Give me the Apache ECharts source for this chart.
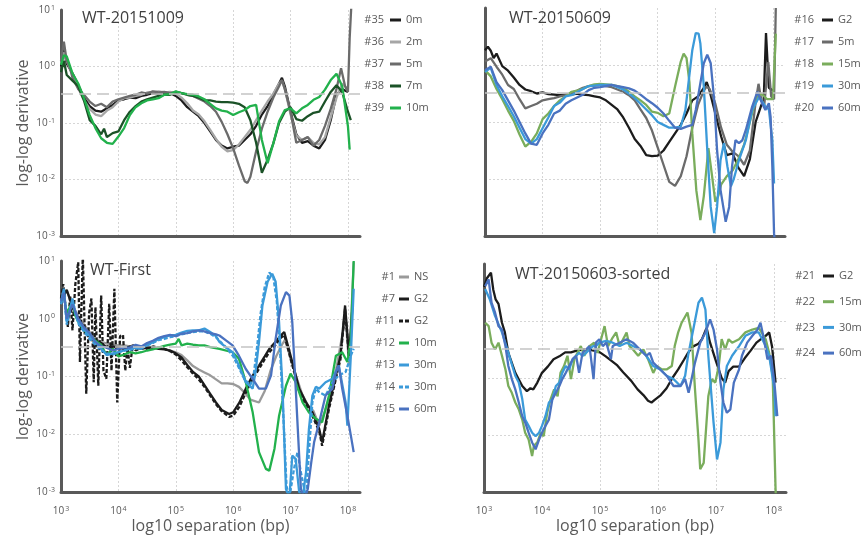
<!DOCTYPE html>
<html><head><meta charset="utf-8">
<script src="https://cdn.jsdelivr.net/npm/echarts@6/dist/echarts.min.js"></script>
<style>html,body{margin:0;padding:0;background:#fff}#c{width:864px;height:539px}</style>
</head><body><div id="c"></div>
<script>
// ---- axis settings (x = log10 separation, y = log10 of log-log derivative) ----
const xRange = [3, 8.21];
const yRange = [-3, 1];
const refLevel = -0.48;
const panelTitles = ['WT-20151009', 'WT-20150609', 'WT-First', 'WT-20150603-sorted'];
const xAxisTitle = 'log10 separation (bp)';
const yAxisTitle = 'log-log derivative';

// ---- Panel 1: WT-20151009 ----
const s35 = [[3.0,0.0],[3.05,0.3],[3.1,0.05],[3.2,-0.12],[3.3,-0.33],[3.4,-0.55],[3.5,-0.7],[3.6,-0.78],[3.7,-0.8],[3.8,-0.74],[3.9,-0.68],[4.0,-0.6],[4.1,-0.58],[4.2,-0.55],[4.3,-0.56],[4.4,-0.52],[4.5,-0.5],[4.6,-0.47],[4.7,-0.48],[4.8,-0.46],[4.9,-0.47],[5.0,-0.52],[5.1,-0.6],[5.2,-0.72],[5.3,-0.8],[5.4,-0.88],[5.5,-1.0],[5.6,-1.15],[5.7,-1.3],[5.8,-1.4],[5.9,-1.45],[6.0,-1.42],[6.1,-1.4],[6.2,-1.3],[6.3,-1.2],[6.4,-1.05],[6.5,-0.85],[6.6,-0.7],[6.7,-0.5],[6.8,-0.3],[6.85,-0.2],[6.9,-0.35],[7.0,-0.8],[7.1,-1.2],[7.2,-1.35],[7.3,-1.32],[7.4,-1.4],[7.5,-1.45],[7.6,-1.3],[7.7,-0.95],[7.8,-0.5],[7.9,-0.4],[8.0,-0.45]];
const s36 = [[3.0,0.05],[3.05,0.25],[3.1,0.1],[3.2,-0.15],[3.3,-0.38],[3.4,-0.6],[3.5,-0.75],[3.6,-0.85],[3.7,-0.88],[3.8,-0.78],[3.9,-0.72],[4.0,-0.62],[4.1,-0.56],[4.2,-0.55],[4.3,-0.52],[4.4,-0.5],[4.5,-0.46],[4.6,-0.45],[4.7,-0.44],[4.8,-0.46],[4.9,-0.45],[5.0,-0.48],[5.1,-0.55],[5.2,-0.65],[5.3,-0.78],[5.4,-0.85],[5.5,-0.97],[5.6,-1.12],[5.7,-1.28],[5.8,-1.42],[5.9,-1.5],[6.0,-1.48],[6.1,-1.38],[6.2,-1.25],[6.3,-1.12],[6.4,-0.95],[6.5,-0.78],[6.6,-0.62],[6.7,-0.48],[6.8,-0.3],[6.85,-0.25],[6.9,-0.4],[7.0,-0.85],[7.1,-1.22],[7.2,-1.3],[7.3,-1.25],[7.4,-1.35],[7.5,-1.38],[7.6,-1.25],[7.7,-0.9],[7.8,-0.55],[7.9,-0.3],[8.0,-0.4]];
const s37 = [[3.0,0.1],[3.05,0.44],[3.1,0.1],[3.15,0.0],[3.2,-0.2],[3.3,-0.4],[3.4,-0.5],[3.5,-0.62],[3.6,-0.7],[3.7,-0.66],[3.8,-0.72],[3.9,-0.62],[4.0,-0.58],[4.1,-0.55],[4.2,-0.52],[4.3,-0.5],[4.4,-0.46],[4.5,-0.48],[4.6,-0.44],[4.7,-0.46],[4.8,-0.45],[4.9,-0.47],[5.0,-0.45],[5.1,-0.47],[5.2,-0.5],[5.3,-0.52],[5.4,-0.57],[5.5,-0.62],[5.6,-0.7],[5.7,-0.8],[5.8,-0.98],[5.9,-1.2],[6.0,-1.45],[6.1,-1.75],[6.2,-2.03],[6.25,-2.06],[6.3,-1.95],[6.4,-1.5],[6.5,-1.1],[6.6,-0.8],[6.7,-0.55],[6.8,-0.35],[6.85,-0.24],[6.9,-0.4],[7.0,-0.8],[7.1,-1.35],[7.2,-1.3],[7.3,-1.25],[7.4,-1.4],[7.5,-1.3],[7.6,-1.05],[7.7,-0.75],[7.8,-0.4],[7.88,-0.03],[7.95,-0.35],[8.0,-0.45],[8.03,0.5],[8.06,1.1]];
const s38 = [[3.0,-0.1],[3.05,0.1],[3.1,-0.15],[3.2,-0.25],[3.3,-0.35],[3.4,-0.6],[3.5,-0.95],[3.6,-1.05],[3.7,-1.2],[3.75,-1.1],[3.8,-1.25],[3.9,-1.18],[4.0,-1.15],[4.1,-0.95],[4.2,-0.8],[4.3,-0.7],[4.4,-0.62],[4.5,-0.58],[4.6,-0.55],[4.7,-0.52],[4.8,-0.5],[4.9,-0.5],[5.0,-0.46],[5.1,-0.47],[5.2,-0.5],[5.3,-0.52],[5.4,-0.55],[5.5,-0.6],[5.6,-0.6],[5.7,-0.62],[5.8,-0.63],[5.9,-0.63],[6.0,-0.64],[6.1,-0.66],[6.2,-0.72],[6.3,-0.95],[6.4,-1.35],[6.5,-1.88],[6.6,-1.65],[6.7,-1.36],[6.8,-1.0],[6.9,-0.8],[7.0,-0.72],[7.1,-0.93],[7.2,-0.96],[7.3,-0.88],[7.4,-0.82],[7.5,-0.8],[7.6,-0.62],[7.7,-0.45],[7.8,-0.33],[7.9,-0.45],[8.0,-0.8],[8.05,-0.95]];
const s39 = [[3.0,0.03],[3.05,0.2],[3.1,0.18],[3.2,-0.12],[3.3,-0.3],[3.4,-0.56],[3.5,-0.86],[3.6,-1.09],[3.7,-1.27],[3.8,-1.35],[3.9,-1.37],[4.0,-1.24],[4.1,-1.09],[4.2,-0.86],[4.3,-0.72],[4.4,-0.65],[4.5,-0.6],[4.6,-0.58],[4.7,-0.56],[4.8,-0.5],[4.9,-0.49],[5.0,-0.44],[5.1,-0.47],[5.2,-0.49],[5.3,-0.5],[5.4,-0.53],[5.5,-0.58],[5.6,-0.66],[5.7,-0.74],[5.8,-0.78],[5.9,-0.8],[6.0,-0.86],[6.1,-0.81],[6.2,-0.77],[6.3,-0.7],[6.4,-0.68],[6.5,-1.3],[6.6,-1.71],[6.7,-1.36],[6.8,-0.97],[6.9,-0.77],[7.0,-0.74],[7.1,-0.83],[7.2,-0.74],[7.3,-0.68],[7.4,-0.59],[7.5,-0.54],[7.6,-0.41],[7.7,-0.24],[7.8,-0.13],[7.9,-0.35],[8.0,-1.06],[8.03,-1.47]];

// ---- Panel 2: WT-20150609 ----
const s16 = [[3.0,0.26],[3.05,0.32],[3.1,0.25],[3.15,0.12],[3.2,0.2],[3.3,-0.02],[3.4,-0.1],[3.5,-0.22],[3.6,-0.35],[3.7,-0.43],[3.8,-0.46],[3.9,-0.5],[4.0,-0.48],[4.1,-0.51],[4.2,-0.52],[4.3,-0.53],[4.4,-0.52],[4.5,-0.52],[4.6,-0.5],[4.7,-0.52],[4.8,-0.53],[4.9,-0.55],[5.0,-0.57],[5.1,-0.62],[5.2,-0.7],[5.3,-0.78],[5.4,-0.92],[5.5,-1.1],[5.6,-1.3],[5.7,-1.42],[5.8,-1.58],[5.9,-1.6],[6.0,-1.59],[6.1,-1.5],[6.2,-1.35],[6.3,-1.2],[6.4,-1.05],[6.5,-0.85],[6.6,-0.62],[6.7,-0.55],[6.8,-0.4],[6.85,-0.3],[6.9,-0.45],[7.0,-0.85],[7.1,-1.25],[7.2,-1.58],[7.3,-1.55],[7.4,-1.8],[7.5,-1.95],[7.6,-1.65],[7.7,-1.0],[7.8,-0.7],[7.84,-0.62],[7.88,0.56],[7.93,-0.4],[8.0,-0.45]];
const s17 = [[3.0,0.06],[3.1,0.12],[3.2,-0.03],[3.3,-0.17],[3.4,-0.35],[3.5,-0.42],[3.6,-0.6],[3.7,-0.76],[3.8,-0.72],[3.9,-0.68],[4.0,-0.62],[4.1,-0.6],[4.2,-0.58],[4.3,-0.55],[4.4,-0.53],[4.5,-0.49],[4.6,-0.45],[4.7,-0.4],[4.8,-0.37],[4.9,-0.36],[5.0,-0.35],[5.1,-0.37],[5.2,-0.39],[5.3,-0.43],[5.4,-0.47],[5.5,-0.53],[5.6,-0.62],[5.7,-0.78],[5.8,-0.93],[5.9,-1.15],[6.0,-1.45],[6.1,-1.75],[6.2,-2.05],[6.3,-2.12],[6.4,-1.95],[6.5,-1.6],[6.6,-1.1],[6.7,-0.7],[6.8,-0.45],[6.85,-0.38],[6.9,-0.42],[7.0,-0.68],[7.1,-1.1],[7.2,-1.4],[7.3,-1.52],[7.4,-1.6],[7.5,-1.75],[7.6,-1.5],[7.7,-0.65],[7.75,-0.33],[7.8,-0.62],[7.85,-0.7],[7.92,0.05],[7.97,-0.55],[8.02,-0.6],[8.05,1.0]];
const s18 = [[3.0,-0.09],[3.1,-0.2],[3.2,-0.42],[3.3,-0.6],[3.4,-0.8],[3.5,-0.98],[3.6,-1.22],[3.7,-1.43],[3.8,-1.35],[3.9,-1.2],[4.0,-0.95],[4.1,-0.85],[4.2,-0.72],[4.3,-0.62],[4.4,-0.55],[4.5,-0.47],[4.6,-0.45],[4.7,-0.42],[4.8,-0.37],[4.9,-0.34],[5.0,-0.33],[5.1,-0.34],[5.2,-0.35],[5.3,-0.37],[5.4,-0.4],[5.5,-0.47],[5.6,-0.55],[5.7,-0.62],[5.8,-0.7],[5.9,-0.82],[6.0,-0.84],[6.1,-0.9],[6.2,-0.85],[6.3,-0.38],[6.4,0.06],[6.45,0.2],[6.5,0.12],[6.55,-0.3],[6.6,-1.2],[6.67,-2.2],[6.74,-2.72],[6.8,-2.3],[6.88,-1.46],[6.95,-2.0],[7.0,-2.4],[7.05,-2.3],[7.1,-2.1],[7.2,-1.95],[7.3,-1.85],[7.4,-1.65],[7.5,-1.4],[7.6,-1.0],[7.7,-0.6],[7.8,-0.5],[7.9,-0.6],[8.0,-0.6],[8.05,0.55]];
const s19 = [[3.0,-0.12],[3.1,-0.05],[3.2,-0.35],[3.3,-0.55],[3.4,-0.72],[3.5,-0.9],[3.6,-1.1],[3.7,-1.3],[3.8,-1.38],[3.9,-1.3],[4.0,-1.11],[4.1,-0.92],[4.2,-0.72],[4.3,-0.66],[4.4,-0.55],[4.5,-0.53],[4.6,-0.48],[4.7,-0.42],[4.8,-0.37],[4.9,-0.36],[5.0,-0.35],[5.1,-0.35],[5.2,-0.35],[5.3,-0.39],[5.4,-0.43],[5.5,-0.5],[5.6,-0.58],[5.7,-0.68],[5.8,-0.78],[5.9,-0.88],[6.0,-1.0],[6.1,-1.05],[6.2,-1.1],[6.3,-1.1],[6.4,-1.08],[6.48,-0.79],[6.54,-0.26],[6.6,0.26],[6.66,0.56],[6.71,0.55],[6.74,0.38],[6.8,-0.38],[6.86,-1.49],[6.92,-2.49],[6.98,-2.95],[7.03,-2.49],[7.09,-1.67],[7.15,-1.37],[7.21,-1.78],[7.27,-2.13],[7.32,-2.0],[7.41,-1.67],[7.53,-1.32],[7.64,-0.79],[7.76,-0.56],[7.87,-0.73],[7.93,-0.78],[7.99,-1.32],[8.02,-2.08]];
const s20 = [[3.0,-0.09],[3.1,-0.03],[3.2,-0.3],[3.3,-0.44],[3.4,-0.62],[3.5,-0.8],[3.6,-1.0],[3.7,-1.2],[3.8,-1.38],[3.9,-1.4],[4.0,-1.2],[4.1,-1.05],[4.2,-0.85],[4.3,-0.8],[4.4,-0.68],[4.5,-0.62],[4.6,-0.57],[4.7,-0.52],[4.8,-0.44],[4.9,-0.4],[5.0,-0.39],[5.1,-0.37],[5.2,-0.35],[5.3,-0.37],[5.4,-0.39],[5.5,-0.41],[5.6,-0.45],[5.7,-0.52],[5.8,-0.6],[5.9,-0.67],[6.0,-0.75],[6.1,-0.85],[6.2,-0.98],[6.3,-1.1],[6.4,-1.12],[6.5,-1.08],[6.6,-1.05],[6.66,-0.79],[6.74,-0.32],[6.8,0.03],[6.86,0.18],[6.92,0.03],[6.98,-0.61],[7.03,-1.49],[7.09,-2.19],[7.18,-2.75],[7.24,-2.49],[7.29,-1.78],[7.35,-1.32],[7.41,-1.37],[7.47,-1.32],[7.53,-1.14],[7.64,-0.73],[7.73,-0.47],[7.81,-0.67],[7.87,-0.79],[7.93,-0.67],[7.96,-0.91],[7.99,-1.78],[8.02,-2.95],[8.04,-3.2]];

// ---- Panel 3: WT-First ----
const s1 = [[3.0,0.35],[3.1,0.49],[3.2,0.23],[3.3,0.05],[3.4,-0.1],[3.5,-0.23],[3.6,-0.35],[3.7,-0.4],[3.8,-0.43],[3.9,-0.45],[4.0,-0.46],[4.1,-0.46],[4.2,-0.48],[4.3,-0.49],[4.4,-0.5],[4.5,-0.5],[4.6,-0.49],[4.7,-0.5],[4.8,-0.52],[4.9,-0.55],[5.0,-0.58],[5.1,-0.63],[5.2,-0.72],[5.3,-0.82],[5.4,-0.88],[5.5,-0.93],[5.6,-0.98],[5.7,-1.05],[5.8,-1.12],[5.9,-1.12],[6.0,-1.13],[6.1,-1.18],[6.2,-1.28],[6.3,-1.4],[6.45,-1.45],[6.55,-1.25],[6.65,-0.9],[6.75,-0.65],[6.85,-0.45],[6.9,-0.37],[6.95,-0.5],[7.0,-0.7],[7.1,-1.0],[7.2,-1.3],[7.3,-1.5],[7.4,-1.6],[7.5,-1.85],[7.6,-1.6],[7.7,-1.3],[7.8,-0.85],[7.9,-0.29],[7.96,0.0],[8.02,-0.81],[8.1,0.98]];
const s7 = [[3.0,0.3],[3.1,0.5],[3.2,0.2],[3.3,0.0],[3.4,-0.15],[3.5,-0.3],[3.6,-0.38],[3.7,-0.42],[3.8,-0.5],[3.9,-0.48],[4.0,-0.5],[4.1,-0.52],[4.2,-0.48],[4.3,-0.5],[4.4,-0.52],[4.5,-0.5],[4.6,-0.5],[4.7,-0.52],[4.8,-0.53],[4.9,-0.55],[5.0,-0.6],[5.1,-0.67],[5.2,-0.8],[5.3,-0.92],[5.4,-1.0],[5.5,-1.15],[5.6,-1.3],[5.7,-1.45],[5.8,-1.58],[5.93,-1.65],[6.0,-1.62],[6.11,-1.45],[6.22,-1.21],[6.33,-1.0],[6.45,-0.81],[6.55,-0.65],[6.63,-0.52],[6.74,-0.4],[6.82,-0.3],[6.89,-0.23],[6.95,-0.45],[7.03,-0.75],[7.15,-1.21],[7.27,-1.45],[7.38,-1.62],[7.5,-1.91],[7.55,-2.14],[7.67,-1.5],[7.79,-0.98],[7.87,-0.64],[7.95,0.23],[8.02,-0.64],[8.08,0.23]];
const s11 = [[3.0,0.35],[3.04,0.6],[3.08,0.2],[3.12,-0.14],[3.16,0.4],[3.2,-0.2],[3.25,0.6],[3.3,0.98],[3.33,-0.75],[3.38,1.1],[3.44,-1.3],[3.49,0.1],[3.53,0.35],[3.57,-1.1],[3.6,0.2],[3.65,-1.16],[3.7,0.4],[3.74,-0.9],[3.79,-1.04],[3.84,0.26],[3.88,-0.9],[3.93,0.52],[3.98,-1.45],[4.03,-0.3],[4.08,-0.28],[4.12,-0.9],[4.16,-0.5],[4.2,-0.85],[4.25,-0.45],[4.3,-0.55],[4.4,-0.5],[4.5,-0.52],[4.6,-0.48],[4.7,-0.5],[4.8,-0.52],[4.9,-0.56],[5.0,-0.62],[5.1,-0.72],[5.2,-0.84],[5.3,-0.95],[5.4,-1.05],[5.5,-1.18],[5.6,-1.33],[5.7,-1.48],[5.8,-1.6],[5.93,-1.7],[6.0,-1.68],[6.11,-1.52],[6.22,-1.28],[6.33,-1.06],[6.45,-0.87],[6.55,-0.7],[6.63,-0.58],[6.74,-0.45],[6.82,-0.34],[6.89,-0.28],[6.95,-0.5],[7.03,-0.8],[7.15,-1.25],[7.27,-1.5],[7.38,-1.68],[7.5,-1.95],[7.55,-2.2],[7.67,-1.56],[7.79,-1.04],[7.87,-0.7],[7.95,0.18],[8.02,-0.7]];
const s12 = [[3.0,0.29],[3.05,0.4],[3.1,0.1],[3.2,0.29],[3.25,0.05],[3.3,-0.05],[3.4,-0.2],[3.5,-0.28],[3.6,-0.38],[3.7,-0.45],[3.75,-0.55],[3.8,-0.63],[3.9,-0.52],[4.0,-0.65],[4.1,-0.62],[4.2,-0.58],[4.3,-0.6],[4.4,-0.58],[4.5,-0.55],[4.6,-0.53],[4.7,-0.5],[4.8,-0.47],[4.9,-0.45],[5.0,-0.43],[5.05,-0.35],[5.1,-0.46],[5.2,-0.43],[5.3,-0.45],[5.4,-0.46],[5.5,-0.46],[5.6,-0.49],[5.76,-0.52],[5.99,-0.58],[6.1,-0.69],[6.22,-1.1],[6.34,-1.62],[6.45,-2.31],[6.57,-2.6],[6.63,-2.63],[6.72,-2.25],[6.8,-1.68],[6.92,-1.16],[7.0,-0.95],[7.09,-1.1],[7.21,-1.45],[7.32,-1.62],[7.44,-1.73],[7.55,-1.79],[7.67,-1.33],[7.79,-0.64],[7.9,-0.58],[7.99,-0.75],[8.05,-0.35],[8.1,1.0]];
const s13 = [[3.0,0.29],[3.05,0.52],[3.1,-0.06],[3.2,0.35],[3.25,0.1],[3.3,-0.05],[3.4,-0.18],[3.5,-0.3],[3.6,-0.4],[3.7,-0.52],[3.8,-0.63],[3.9,-0.6],[4.0,-0.58],[4.1,-0.55],[4.2,-0.52],[4.3,-0.5],[4.4,-0.52],[4.5,-0.45],[4.6,-0.41],[4.7,-0.35],[4.8,-0.32],[4.9,-0.29],[5.0,-0.28],[5.1,-0.24],[5.2,-0.21],[5.3,-0.2],[5.4,-0.2],[5.5,-0.17],[5.6,-0.23],[5.7,-0.3],[5.76,-0.4],[5.88,-0.5],[5.99,-0.58],[6.1,-0.81],[6.22,-1.1],[6.34,-1.21],[6.39,-0.92],[6.45,-0.4],[6.51,0.23],[6.6,0.64],[6.68,0.78],[6.74,0.64],[6.8,-0.06],[6.86,-1.21],[6.92,-2.95],[6.98,-3.1],[7.03,-2.37],[7.09,-2.43],[7.15,-3.0],[7.21,-3.1],[7.27,-2.66],[7.32,-1.91],[7.38,-1.33],[7.44,-1.18],[7.5,-1.21],[7.61,-1.1],[7.73,-1.04],[7.84,-0.81],[7.96,-1.45],[7.99,-1.85],[8.05,-0.64],[8.1,0.52]];
const s14 = [[3.0,0.25],[3.05,0.45],[3.1,-0.1],[3.2,0.3],[3.3,-0.08],[3.4,-0.22],[3.5,-0.35],[3.6,-0.45],[3.7,-0.55],[3.8,-0.6],[3.9,-0.62],[4.0,-0.58],[4.1,-0.55],[4.2,-0.54],[4.3,-0.52],[4.4,-0.5],[4.5,-0.46],[4.6,-0.42],[4.7,-0.37],[4.8,-0.35],[4.9,-0.32],[5.0,-0.3],[5.1,-0.27],[5.2,-0.25],[5.3,-0.23],[5.4,-0.22],[5.5,-0.22],[5.6,-0.26],[5.7,-0.32],[5.8,-0.42],[5.9,-0.52],[6.0,-0.65],[6.1,-0.85],[6.2,-1.05],[6.3,-1.15],[6.36,-0.95],[6.42,-0.46],[6.48,0.1],[6.55,0.55],[6.63,0.8],[6.7,0.72],[6.76,0.3],[6.82,-0.6],[6.88,-1.8],[6.93,-2.9],[6.98,-3.1],[7.06,-2.6],[7.12,-2.31],[7.18,-2.66],[7.27,-3.1],[7.32,-2.31],[7.38,-1.45],[7.44,-1.21],[7.5,-1.27],[7.61,-1.33],[7.73,-1.1],[7.84,-0.98],[7.96,-0.92],[8.05,-0.64],[8.1,-0.52]];
const s15 = [[3.0,0.3],[3.05,0.45],[3.1,0.0],[3.2,0.25],[3.3,0.0],[3.4,-0.15],[3.5,-0.25],[3.6,-0.4],[3.7,-0.48],[3.8,-0.5],[3.9,-0.55],[4.0,-0.52],[4.1,-0.5],[4.2,-0.5],[4.3,-0.45],[4.4,-0.48],[4.5,-0.42],[4.6,-0.38],[4.7,-0.33],[4.8,-0.3],[4.9,-0.28],[5.0,-0.3],[5.1,-0.26],[5.2,-0.25],[5.3,-0.22],[5.4,-0.2],[5.5,-0.22],[5.6,-0.25],[5.7,-0.27],[5.76,-0.29],[5.88,-0.38],[5.99,-0.46],[6.1,-0.64],[6.22,-0.87],[6.34,-1.04],[6.45,-1.21],[6.57,-1.21],[6.66,-0.98],[6.74,-0.35],[6.83,0.23],[6.92,0.46],[6.98,0.4],[7.03,-0.06],[7.09,-1.21],[7.15,-2.37],[7.18,-2.95],[7.24,-3.1],[7.3,-2.95],[7.36,-2.49],[7.41,-2.14],[7.5,-1.79],[7.61,-1.33],[7.73,-1.21],[7.79,-0.92],[7.84,-0.81],[7.9,-1.21],[7.99,-1.68],[8.05,-2.02],[8.1,-2.31]];

// ---- Panel 4: WT-20150603-sorted ----
const s21 = [[3.0,0.6],[3.05,0.75],[3.12,0.85],[3.16,0.55],[3.2,0.38],[3.25,0.3],[3.31,-0.03],[3.36,-0.2],[3.42,-0.56],[3.54,-0.91],[3.66,-1.14],[3.74,-1.23],[3.8,-1.18],[3.85,-1.2],[3.92,-1.08],[4.0,-0.91],[4.1,-0.8],[4.2,-0.67],[4.3,-0.62],[4.4,-0.55],[4.5,-0.55],[4.6,-0.52],[4.7,-0.5],[4.8,-0.5],[4.9,-0.52],[5.0,-0.55],[5.1,-0.62],[5.2,-0.7],[5.3,-0.78],[5.4,-0.9],[5.54,-1.05],[5.65,-1.2],[5.75,-1.3],[5.83,-1.4],[5.89,-1.43],[5.95,-1.38],[6.05,-1.3],[6.15,-1.18],[6.25,-1.0],[6.35,-0.85],[6.45,-0.68],[6.52,-0.56],[6.6,-0.45],[6.7,-0.4],[6.76,-0.32],[6.84,-0.12],[6.9,-0.38],[7.0,-0.7],[7.1,-1.0],[7.16,-1.08],[7.22,-0.88],[7.3,-0.8],[7.4,-0.8],[7.5,-0.65],[7.6,-0.52],[7.7,-0.38],[7.8,-0.3],[7.86,-0.26],[7.92,-0.2],[7.97,-0.45],[8.03,-1.08]];
const s22 = [[3.02,-0.03],[3.08,-0.09],[3.13,-0.38],[3.19,-0.5],[3.25,-0.38],[3.31,-0.61],[3.37,-0.85],[3.42,-1.14],[3.48,-1.26],[3.54,-1.43],[3.6,-1.55],[3.66,-1.73],[3.71,-1.96],[3.77,-2.08],[3.83,-2.37],[3.86,-2.19],[3.92,-2.13],[3.98,-1.96],[4.03,-2.02],[4.09,-1.61],[4.15,-1.37],[4.21,-1.2],[4.27,-1.32],[4.32,-0.91],[4.38,-0.79],[4.44,-0.61],[4.5,-1.02],[4.56,-0.67],[4.61,-0.56],[4.67,-0.44],[4.73,-0.61],[4.82,-0.44],[4.9,-0.38],[4.96,-0.56],[5.02,-0.32],[5.08,-0.09],[5.14,-0.44],[5.22,-0.29],[5.28,-0.2],[5.34,-0.44],[5.4,-0.32],[5.46,-0.2],[5.51,-0.44],[5.57,-0.5],[5.66,-0.61],[5.75,-0.5],[5.83,-0.67],[5.92,-0.91],[5.98,-0.79],[6.07,-0.85],[6.15,-0.85],[6.24,-0.79],[6.29,-0.44],[6.35,-0.2],[6.41,-0.03],[6.51,0.15],[6.58,-0.2],[6.64,-1.2],[6.7,-2.08],[6.73,-2.6],[6.79,-2.49],[6.87,-1.32],[6.93,-1.02],[6.99,-1.08],[7.05,-0.79],[7.1,-0.32],[7.16,-0.5],[7.22,-0.32],[7.28,-0.38],[7.4,-0.32],[7.51,-0.2],[7.63,-0.15],[7.74,-0.12],[7.86,-0.32],[7.92,-0.56],[7.98,-0.96],[8.03,-2.95],[8.04,-3.2]];
const s23 = [[3.02,0.56],[3.1,0.38],[3.19,0.09],[3.31,-0.2],[3.42,-0.56],[3.54,-0.96],[3.6,-1.08],[3.66,-1.37],[3.71,-1.73],[3.77,-1.84],[3.83,-1.96],[3.89,-2.02],[3.95,-1.96],[4.0,-1.84],[4.06,-1.67],[4.12,-1.43],[4.18,-1.37],[4.24,-1.14],[4.3,-1.08],[4.35,-0.91],[4.41,-0.79],[4.47,-0.85],[4.53,-0.67],[4.59,-0.61],[4.64,-0.56],[4.7,-0.61],[4.76,-0.56],[4.82,-0.5],[4.88,-0.44],[4.93,-0.44],[4.99,-0.38],[5.11,-0.35],[5.22,-0.38],[5.34,-0.44],[5.46,-0.38],[5.57,-0.44],[5.69,-0.5],[5.8,-0.61],[5.92,-0.79],[6.04,-0.85],[6.15,-0.96],[6.27,-1.02],[6.39,-1.14],[6.47,-0.96],[6.52,-0.61],[6.61,-0.15],[6.7,0.32],[6.76,0.41],[6.82,0.2],[6.87,-0.61],[6.96,-1.78],[7.02,-2.43],[7.08,-2.13],[7.13,-1.2],[7.19,-0.79],[7.28,-0.61],[7.4,-0.44],[7.51,-0.26],[7.63,-0.2],[7.74,-0.2],[7.86,-0.44],[7.92,-0.61],[8.01,-1.2],[8.03,-1.67]];
const s24 = [[3.02,0.61],[3.08,0.73],[3.13,0.32],[3.19,0.15],[3.25,-0.09],[3.31,-0.15],[3.37,-0.44],[3.42,-0.79],[3.48,-1.02],[3.54,-1.2],[3.6,-1.43],[3.66,-1.67],[3.71,-1.78],[3.77,-1.96],[3.83,-2.13],[3.89,-2.25],[3.95,-2.08],[4.0,-1.96],[4.06,-1.84],[4.12,-1.73],[4.18,-1.37],[4.24,-1.26],[4.3,-1.14],[4.35,-1.02],[4.41,-0.91],[4.47,-0.79],[4.53,-0.67],[4.59,-0.61],[4.64,-0.91],[4.7,-0.56],[4.76,-0.5],[4.82,-0.44],[4.89,-1.02],[4.93,-0.38],[4.99,-0.32],[5.05,-0.44],[5.11,-0.38],[5.19,-0.67],[5.22,-0.44],[5.34,-0.38],[5.46,-0.32],[5.57,-0.38],[5.69,-0.5],[5.8,-0.61],[5.86,-0.56],[5.92,-0.73],[6.04,-0.85],[6.15,-0.96],[6.27,-1.14],[6.39,-1.14],[6.47,-1.02],[6.53,-1.26],[6.58,-1.02],[6.64,-0.73],[6.73,-0.38],[6.82,-0.2],[6.9,0.03],[6.96,-0.15],[7.02,-0.5],[7.08,-1.08],[7.13,-1.43],[7.19,-1.61],[7.25,-1.55],[7.31,-1.08],[7.4,-0.85],[7.45,-0.61],[7.54,-0.38],[7.63,-0.26],[7.72,-0.15],[7.77,-0.03],[7.83,-0.32],[7.89,-0.67],[7.95,-0.61],[8.01,-1.08],[8.06,-1.67]];

// ---- series meta ----
const C = {black:'#1c1c1c', lgray:'#a6a6a6', mgray:'#6b6b6b', dgreen:'#1b5227', bgreen:'#22b14c', olive:'#7aad5c', lblue:'#3b9ad9', blue:'#4a72c0'};
const seriesMeta = [
  {p:0, id:'#35', label:'0m', color:C.black, data:s35},
  {p:0, id:'#36', label:'2m', color:C.lgray, data:s36},
  {p:0, id:'#37', label:'5m', color:C.mgray, data:s37},
  {p:0, id:'#38', label:'7m', color:C.dgreen, data:s38},
  {p:0, id:'#39', label:'10m', color:C.bgreen, data:s39},
  {p:1, id:'#16', label:'G2', color:C.black, data:s16},
  {p:1, id:'#17', label:'5m', color:C.mgray, data:s17},
  {p:1, id:'#18', label:'15m', color:C.olive, data:s18},
  {p:1, id:'#19', label:'30m', color:C.lblue, data:s19},
  {p:1, id:'#20', label:'60m', color:C.blue, data:s20},
  {p:2, id:'#1', label:'NS', color:'#9a9a9a', data:s1},
  {p:2, id:'#7', label:'G2', color:C.black, data:s7},
  {p:2, id:'#11', label:'G2', color:C.black, data:s11, dash:true},
  {p:2, id:'#12', label:'10m', color:C.bgreen, data:s12},
  {p:2, id:'#13', label:'30m', color:C.lblue, data:s13},
  {p:2, id:'#14', label:'30m', color:C.lblue, data:s14, dash:true},
  {p:2, id:'#15', label:'60m', color:C.blue, data:s15},
  {p:3, id:'#21', label:'G2', color:C.black, data:s21},
  {p:3, id:'#22', label:'15m', color:C.olive, data:s22},
  {p:3, id:'#23', label:'30m', color:C.lblue, data:s23},
  {p:3, id:'#24', label:'60m', color:C.blue, data:s24}
];

const FONT = '"Open Sans", "Liberation Sans", sans-serif';
const TXT = '#595959';
const layout = [
  {grid:{left:61, top:10, width:299, height:226}, xl:false, yl:true, title:[82,10], lg:[390,13], gap:8, iw:11, num:384},
  {grid:{left:485, top:8, width:300, height:228}, xl:false, yl:false, title:[509,10], lg:[822,13], gap:8, iw:11, num:814},
  {grid:{left:61, top:261, width:299, height:231}, xl:true, yl:true, title:[90,262], lg:[399,270], gap:8, iw:10, num:395},
  {grid:{left:484, top:264, width:302, height:228}, xl:true, yl:false, title:[515,266], lg:[823,269], gap:11.7, iw:11, num:815}
];
const DASH_ICON = 'path://M0,0H4V3H0Z M6,0H10V3H6Z';
const isInt = v => Math.abs(v - Math.round(v)) < 1e-6;
const pow10 = v => isInt(v) ? '{b|10}{s|' + Math.round(v) + '}' : '';
const rich = {b:{fontSize:10, color:TXT, fontFamily:FONT}, s:{fontSize:7, color:TXT, fontFamily:FONT, verticalAlign:'top', padding:[0,0,5,1]}};
const splitLine = {show:true, showMaxLine:false, lineStyle:{color:'#d6d6d6', type:[2,2], width:1}};
const axisLine = {show:true, onZero:false, lineStyle:{color:'#595959', width:3}};

const grids = [], xAxes = [], yAxes = [], titles = [], legends = [], graphics = [], series = [];
layout.forEach((L, p) => {
  grids.push(Object.assign({containLabel:false}, L.grid));
  xAxes.push({type:'value', gridIndex:p, min:xRange[0], max:xRange[1], interval:1,
    axisLine, axisTick:{show:false}, splitLine,
    axisLabel:{show:L.xl, formatter:pow10, rich, margin:13, showMaxLabel:false},
    name: L.xl ? xAxisTitle : '', nameLocation:'middle', nameGap:26,
    nameTextStyle:{fontSize:16, color:TXT, fontFamily:FONT}});
  yAxes.push({type:'value', gridIndex:p, min:yRange[0], max:yRange[1], interval:1,
    axisLine, axisTick:{show:false}, splitLine,
    axisLabel:{show:L.yl, formatter:pow10, rich, margin:6},
    name: L.yl ? yAxisTitle : '', nameLocation:'middle', nameGap:30,
    nameTextStyle:{fontSize:16, color:TXT, fontFamily:FONT}});
  titles.push({text:panelTitles[p], left:L.title[0], top:L.title[1], padding:0,
    textStyle:{fontSize:16, fontWeight:'normal', color:'#404040', fontFamily:FONT}});
  const metas = seriesMeta.filter(m => m.p === p);
  legends.push({orient:'vertical', left:L.lg[0], top:L.lg[1], padding:0, itemGap:L.gap,
    itemWidth:L.iw, itemHeight:3, selectedMode:false, icon:'rect',
    itemStyle:{borderWidth:0},
    textStyle:{fontSize:11, color:TXT, fontFamily:FONT, lineHeight:14},
    formatter: n => n.split(' ')[1],
    data: metas.map(m => ({name: m.id + ' ' + m.label, icon: m.dash ? DASH_ICON : 'rect'}))});
  metas.forEach((m, i) => {
    graphics.push({type:'text', x:L.num, y:L.lg[1] + 7 + i * (14 + L.gap),
      style:{text:m.id, align:'right', verticalAlign:'middle', fill:TXT, font:'11px ' + FONT}});
  });
  // reference dashed line
  series.push({type:'line', name:'ref' + p, xAxisIndex:p, yAxisIndex:p, data:[], z:1, silent:true,
    markLine:{silent:true, symbol:'none', animation:false, label:{show:false},
      lineStyle:{color:'#c4c4c4', type:[12,6], width:1.5}, data:[{yAxis:refLevel}]}});
});
seriesMeta.forEach((m, i) => {
  series.push({type:'line', name:m.id + ' ' + m.label, xAxisIndex:m.p, yAxisIndex:m.p,
    data:m.data, showSymbol:false, symbol:'none', clip:true, color:m.color, z:2,
    lineStyle:{color:m.color, width:2.3, type: m.dash ? [4,2] : 'solid'},
    emphasis:{disabled:true}, animation:false});
});

const chart = echarts.init(document.getElementById('c'), null, {renderer:'canvas'});
chart.setOption({
  backgroundColor:'#ffffff', animation:false,
  textStyle:{fontFamily:FONT},
  grid:grids, xAxis:xAxes, yAxis:yAxes, title:titles, legend:legends,
  graphic:graphics, series
});
</script></body></html>
